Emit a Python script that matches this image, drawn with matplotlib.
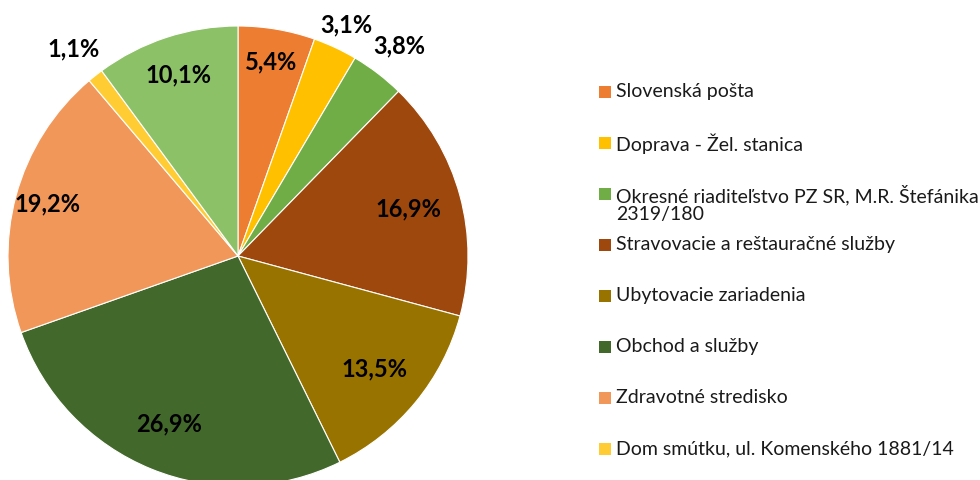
import matplotlib
matplotlib.use("Agg")
import matplotlib.pyplot as plt
import numpy as np
from matplotlib.patches import Rectangle

categories = [
    "Slovenská pošta",
    "Doprava - Žel. stanica",
    "Okresné riaditeľstvo PZ SR, M.R. Štefánika\n2319/180",
    "Stravovacie a reštauračné služby",
    "Ubytovacie zariadenia",
    "Obchod a služby",
    "Zdravotné stredisko",
    "Dom smútku, ul. Komenského 1881/14",
    "Ostatné",
]
values = [5.4, 3.1, 3.8, 16.9, 13.5, 26.9, 19.2, 1.1, 10.1]
labels = ["5,4%", "3,1%", "3,8%", "16,9%", "13,5%", "26,9%", "19,2%", "1,1%", "10,1%"]

colors = ["#ED7D31", "#FFC000", "#70AD47", "#9E480E", "#997300",
          "#43682B", "#F1975A", "#FFCD33", "#8CC168"]
label_dist = [0.855, 1.11, 1.15, 0.77, 0.77, 0.79, 0.86, 1.15, 0.83]

W, H = 980, 480
fig = plt.figure(figsize=(W / 100, H / 100), dpi=100)
cx, cy, R = 238, 256, 230
ax = fig.add_axes([(cx - R) / W, (H - cy - R) / H, 2 * R / W, 2 * R / H])
wedges, _ = ax.pie(values, colors=colors, startangle=90, counterclock=False,
                   radius=1, wedgeprops=dict(edgecolor="white", linewidth=0.8))
ax.set_xlim(-1, 1)
ax.set_ylim(-1, 1)
ax.set_aspect("equal")
ax.axis("off")

for w, lab, d in zip(wedges, labels, label_dist):
    ang = np.deg2rad((w.theta1 + w.theta2) / 2)
    ax.text(d * np.cos(ang), d * np.sin(ang), lab, ha="center", va="center",
            fontsize=17, fontweight="bold", family="Lato", color="black",
            clip_on=False)

# legend (only the entries that fit in the visible area)
y0, step = 92, 51
for i, (cat, col) in enumerate(zip(categories, colors)):
    yc = y0 + i * step
    if yc + 10 > H:
        break
    fig.patches.append(Rectangle((599 / W, 1 - (yc + 6) / H), 12 / W, 12 / H,
                                 transform=fig.transFigure, facecolor=col,
                                 edgecolor="none"))
    fig.text(616 / W, 1 - (yc - 9) / H, cat, ha="left", va="top",
             fontsize=14, family="Lato", color="#1a1a1a", linespacing=1.0)

fig.savefig("out.png", dpi=100)
